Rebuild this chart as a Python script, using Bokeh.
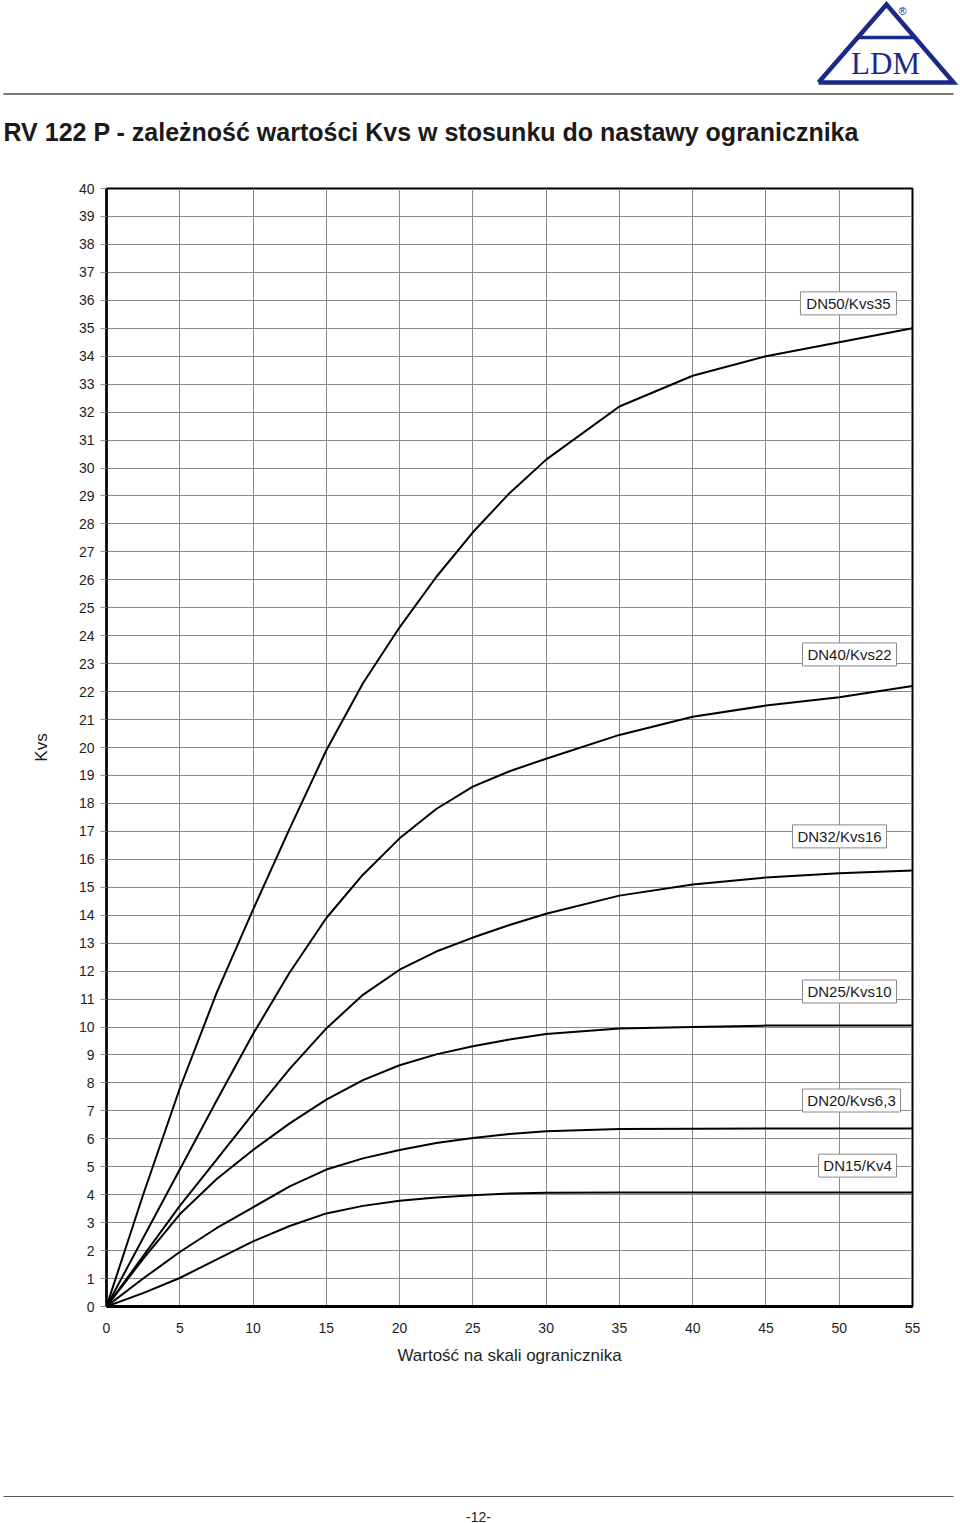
from bokeh.plotting import figure
from bokeh.layouts import column
from bokeh.models import Range1d, SingleIntervalTicker
from bokeh.core.properties import value
from bokeh.embed import file_html
from bokeh.resources import INLINE

# ---------------- data ----------------
x_pts = [0, 2.5, 5, 7.5, 10, 12.5, 15, 17.5, 20, 22.5, 25, 27.5, 30, 35, 40, 45, 50, 55]
y_dn50 = [0, 4.0, 7.8, 11.2, 14.2, 17.1, 19.9, 22.3, 24.3, 26.1, 27.7, 29.1, 30.3, 32.2, 33.3, 34.0, 34.5, 35.0]
y_dn40 = [0, 2.45, 4.9, 7.35, 9.75, 11.95, 13.9, 15.45, 16.75, 17.8, 18.6, 19.15, 19.6, 20.45, 21.1, 21.5, 21.8, 22.2]
y_dn32 = [0, 1.8, 3.6, 5.25, 6.9, 8.5, 9.95, 11.15, 12.05, 12.7, 13.2, 13.65, 14.05, 14.7, 15.1, 15.35, 15.5, 15.6]
y_dn25 = [0, 1.7, 3.3, 4.55, 5.6, 6.55, 7.4, 8.1, 8.63, 9.02, 9.31, 9.55, 9.75, 9.95, 10.0, 10.05, 10.05, 10.05]
y_dn20 = [0, 1.0, 1.95, 2.8, 3.55, 4.3, 4.9, 5.3, 5.6, 5.85, 6.03, 6.17, 6.27, 6.35, 6.36, 6.37, 6.37, 6.37]
y_dn15 = [0, 0.48, 1.02, 1.68, 2.33, 2.88, 3.33, 3.6, 3.78, 3.9, 3.98, 4.04, 4.07, 4.08, 4.08, 4.08, 4.08, 4.08]

series_labels = ["DN50/Kvs35", "DN40/Kvs22", "DN32/Kvs16", "DN25/Kvs10", "DN20/Kvs6,3", "DN15/Kv4"]
label_x = [50.63, 50.70, 50.02, 50.70, 50.84, 51.25]
label_y = [35.89, 23.33, 16.82, 11.27, 7.37, 5.04]

title_text = "RV 122 P - zależność wartości Kvs w stosunku do nastawy ogranicznika"
x_title = "Wartość na skali ogranicznika"
y_title = "Kvs"
page_text = "-12-"

FONT_NAME = "Liberation Sans"
FONT = value(FONT_NAME)
NAVY = "#1b2a87"


def no_align(fig):
    if "frame_align" in fig.properties():
        fig.frame_align = False


# ---------------- header ----------------
h = figure(width=960, height=170, x_range=Range1d(0, 960), y_range=Range1d(170, 0),
           output_backend="svg", toolbar_location=None, min_border=0,
           min_border_left=0, min_border_right=0, min_border_top=0, min_border_bottom=0)
h.axis.visible = False
h.grid.visible = False
h.outline_line_color = None
no_align(h)
h.line(x=[818, 886, 953, 818], y=[82, 4, 82, 82], line_color=NAVY, line_width=4.5, line_join="miter")
h.line(x=[858, 915], y=[37, 37], line_color=NAVY, line_width=3.5)
h.text(x=[885], y=[63], text=["LDM"], text_font=value("Liberation Serif"), text_font_size="31px",
       text_color=NAVY, text_align="center", text_baseline="middle")
h.text(x=[902], y=[10], text=["®"], text_font=FONT, text_font_size="11px",
       text_color=NAVY, text_align="center", text_baseline="middle")
h.line(x=[3, 953], y=[93.5, 93.5], line_color="#7a7a7a", line_width=2)
h.text(x=[3], y=[131], text=[title_text], text_font=FONT, text_font_style="bold",
       text_font_size="25px", text_color="#1a1a1a", text_baseline="middle")

# ---------------- main chart ----------------
p = figure(width=960, height=1310, x_range=Range1d(0, 55), y_range=Range1d(0, 40),
           output_backend="svg", toolbar_location=None,
           min_border_left=106, min_border_right=48, min_border_top=18, min_border_bottom=174)
no_align(p)
p.background_fill_color = "white"
p.outline_line_color = "black"
p.outline_line_width = 2

p.xaxis.ticker = SingleIntervalTicker(interval=5)
p.yaxis.ticker = SingleIntervalTicker(interval=1)
p.axis.minor_tick_line_color = None
p.axis.axis_line_color = "black"
p.yaxis.axis_line_width = 2.5
p.xaxis.axis_line_width = 3
p.xaxis.major_tick_out = 0
p.xaxis.major_tick_in = 0
p.xaxis.major_label_standoff = 12
p.yaxis.major_tick_out = 6
p.yaxis.major_tick_in = 0
p.yaxis.major_tick_line_color = "#8a8a8a"
p.yaxis.major_label_standoff = 6
p.axis.major_label_text_font = FONT_NAME
p.axis.major_label_text_font_size = "14px"
p.axis.major_label_text_color = "#1e1e1e"

p.xaxis.axis_label = x_title
p.yaxis.axis_label = y_title
p.axis.axis_label_text_font = FONT_NAME
p.axis.axis_label_text_font_style = "normal"
p.axis.axis_label_text_font_size = "17px"
p.axis.axis_label_text_color = "#1e1e1e"
p.xaxis.axis_label_standoff = 10
p.yaxis.axis_label_standoff = 25

p.grid.grid_line_color = "#8a8a8a"
p.grid.grid_line_width = 1

for ys in [y_dn50, y_dn40, y_dn32, y_dn25, y_dn20, y_dn15]:
    p.line(x=x_pts, y=ys, line_color="black", line_width=2, line_join="round")

box_w = [96, 94, 94, 94, 98, 78]
p.rect(x=label_x, y=label_y, width=box_w, height=[23] * 6, width_units="screen",
       height_units="screen", fill_color="white", line_color="#8a8a8a", line_width=1)
p.text(x=label_x, y=label_y, text=series_labels, text_font=FONT, text_font_size="15px",
       text_color="#1a1a1a", text_align="center", text_baseline="middle")

# ---------------- footer ----------------
f = figure(width=960, height=43, x_range=Range1d(0, 960), y_range=Range1d(1523, 1480),
           output_backend="svg", toolbar_location=None, min_border=0,
           min_border_left=0, min_border_right=0, min_border_top=0, min_border_bottom=0)
f.axis.visible = False
f.grid.visible = False
f.outline_line_color = None
no_align(f)
f.line(x=[3, 953], y=[1496, 1496], line_color="#555555", line_width=1)
f.text(x=[478], y=[1516], text=[page_text], text_font=FONT, text_font_size="14px",
       text_color="#1e1e1e", text_align="center", text_baseline="middle")

layout = column(h, p, f, spacing=0)
open("out.html", "w").write(file_html(layout, INLINE))
